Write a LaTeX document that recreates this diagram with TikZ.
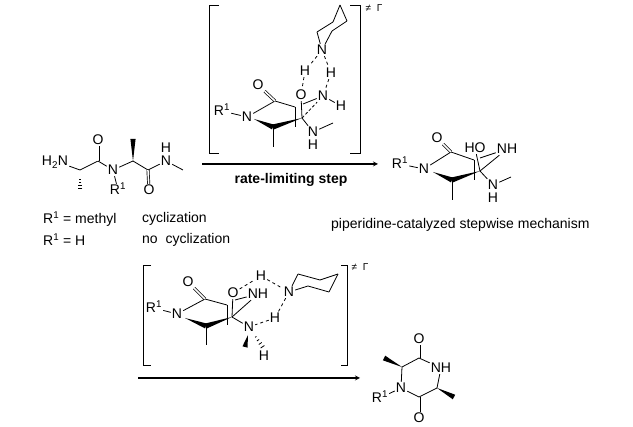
\documentclass[tikz,border=0pt]{standalone}
\usepackage{fontspec}
\setmainfont{Liberation Sans}
\usetikzlibrary{calc}
\newcommand{\Rone}{R\textsuperscript{1}}
\newcommand{\wedgebond}[3][2.6pt]{\fill (#2) -- ($(#3)!#1!90:(#2)$) -- ($(#3)!#1!-90:(#2)$) -- cycle;}
\newcommand{\hashbond}[2]{\foreach \t/\w in {0.45/0.8pt,0.6/1.3pt,0.75/1.8pt,0.9/2.3pt,1/2.8pt}
   {\draw[line width=0.8pt] ($(#1)!\t!(#2)!\w!90:(#2)$) -- ($(#1)!\t!(#2)!\w!-90:(#2)$);}}
\begin{document}
\begin{tikzpicture}[x=1pt,y=-1pt,
                    atom/.style={inner sep=1pt,text height=10pt,text depth=0pt,font=\fontsize{14}{14}\selectfont},
                    label text/.style={inner sep=0pt,anchor=west,font=\fontsize{14}{16}\selectfont},
                    small mark/.style={inner sep=1pt,font=\fontsize{10}{10}\selectfont},
                    every edge/.style={draw,line width=0.8pt},
                    dbl/.style={double,double distance=1.6pt,line width=0.7pt},
                    hbond/.style={dash pattern=on 3pt off 3pt},
                    rear/.style={dash pattern=on 3pt off 2pt},
                    rxn/.style={-stealth,line width=1.2pt}
                   ]
   \useasboundingbox (0,0) rectangle (633,427);

   % starting dipeptide
   \node[atom] (sN1) at (55,161) {H\textsubscript{2}N};
   \coordinate (sC1) at (80,170);
   \coordinate (sMe1) at (80,191);
   \coordinate (sC2) at (98,161);
   \node[atom] (sO1) at (98,140) {O};
   \node[atom] (sN2) at (113,170) {N};
   \node[atom] (sR) at (118,190) {\Rone};
   \coordinate (sC3) at (133,161);
   \coordinate (sMe2) at (133,139);
   \coordinate (sC4) at (148,170);
   \node[atom] (sO2) at (149,190) {O};
   \node[atom] (sN3) at (166,161) {N};
   \node[atom] (sH) at (166,148) {H};
   \coordinate (sMe3) at (183,170);
   \path%
     (sN1) edge (sC1)
     (sC1) edge (sC2)
     (sC2) edge[dbl] (sO1)
     (sC2) edge (sN2)
     (sN2) edge (sR)
     (sN2) edge (sC3)
     (sC3) edge (sC4)
     (sC4) edge[dbl] (sO2)
     (sC4) edge (sN3)
     (sN3) edge (sMe3);
   \hashbond{sC1}{sMe1}
   \wedgebond{sC3}{sMe2}

   \node[label text] (tA) at (43,219) {\Rone{} = methyl};
   \node[label text] (tB) at (43,240) {\Rone{} = H};
   \node[label text] (tC) at (142,219) {cyclization};
   \node[label text] (tD) at (142,240) {no\ \ cyclization};

   % upper transition state
   \draw[line width=0.8pt] (219,5) -- (209,5) -- (209,153) -- (219,153);
   \draw[line width=0.8pt] (350,5) -- (360,5) -- (360,153) -- (350,153);
   \node[small mark] (aT) at (374,8) {≠\ \ Γ};
   \node[atom] (aNp) at (322,50) {N};
   \coordinate (aP1) at (317,32);
   \coordinate (aP2) at (333,22);
   \coordinate (aP3) at (340,5);
   \coordinate (aP4) at (347,21);
   \coordinate (aP5) at (332,31);
   \node[atom] (aH1) at (305,71) {H};
   \node[atom] (aH2) at (331,73) {H};
   \node[atom] (aO2) at (301,95) {O};
   \node[atom] (aN2) at (323,96) {N};
   \node[atom] (aH3) at (341,106) {H};
   \node[atom] (aO1) at (258,85) {O};
   \node[atom] (aN1) at (247,117) {N};
   \node[atom] (aR) at (222,111) {\Rone};
   \coordinate (aC1) at (275,101);
   \coordinate (aC2) at (295,107);
   \coordinate (aC2b) at (295,127);
   \coordinate (aC3) at (302,118);
   \coordinate (aC4) at (303,104);
   \coordinate (aC5) at (273,127);
   \coordinate (aW) at (254,119);
   \coordinate (aMe1) at (273,147);
   \node[atom] (aN3) at (313,132) {N};
   \node[atom] (aH4) at (313,145) {H};
   \coordinate (aMe2) at (333,123);
   \path%
     (aNp) edge (aP1)
     (aP1) edge (aP2)
     (aP2) edge (aP3)
     (aP3) edge (aP4)
     (aP4) edge (aP5)
     (aP5) edge (aNp)
     (aNp) edge[hbond] (aH1)
     (aNp) edge[hbond] (aH2)
     (aH1) edge[hbond] (aO2)
     (aH2) edge[hbond] (aN2)
     (aN2) edge (aH3)
     (aR) edge (aN1)
     (aN1) edge (aC1)
     (aC1) edge[dbl] (aO1)
     (aC1) edge (aC2)
     (aC2) edge (aC2b)
     (aO2) edge (aC3)
     (aC4) edge (aN2)
     (aC3) edge[rear] (aN2)
     (aC3) edge (aN3)
     (aN3) edge (aMe2)
     (aC5) edge (aMe1);
   \wedgebond{aW}{aC5}
   \wedgebond{aC3}{aC5}

   \coordinate (r1) at (202,164);
   \coordinate (r2) at (378,164);
   \draw[rxn] (r1) -- (r2);
   \node[atom,font=\fontsize{14}{14}\selectfont\bfseries] (tE) at (291,179) {rate-limiting step};

   % stepwise product
   \node[atom] (pO1) at (437,138) {O};
   \node[atom] (pN1) at (424,169) {N};
   \node[atom] (pR) at (400,164) {\Rone};
   \node[atom] (pO2) at (475,148) {HO};
   \node[atom] (pN2) at (507,149) {NH};
   \node[atom] (pN3) at (493,185) {N};
   \node[atom] (pH) at (493,198) {H};
   \coordinate (pC1) at (451,152);
   \coordinate (pC2) at (474,160);
   \coordinate (pC2b) at (474,180);
   \coordinate (pC3) at (480,171);
   \coordinate (pC4) at (480,158);
   \coordinate (pC5) at (452,180);
   \coordinate (pW) at (433,172);
   \coordinate (pMe1) at (452,200);
   \coordinate (pMe2) at (511,177);
   \path%
     (pR) edge (pN1)
     (pN1) edge (pC1)
     (pC1) edge[dbl] (pO1)
     (pC1) edge (pC2)
     (pC2) edge (pC2b)
     (pO2) edge (pC3)
     (pC4) edge (pN2)
     (pC3) edge (pN2)
     (pC3) edge (pN3)
     (pN3) edge (pMe2)
     (pC5) edge (pMe1);
   \wedgebond{pW}{pC5}
   \wedgebond{pC3}{pC5}
   \node[label text] (tF) at (331,225) {piperidine-catalyzed stepwise mechanism};

   % lower transition state
   \draw[line width=0.8pt] (151,265) -- (143,265) -- (143,365) -- (151,365);
   \draw[line width=0.8pt] (341,265) -- (347,265) -- (347,365) -- (341,365);
   \node[small mark] (bT) at (360,267) {≠\ \ Γ};
   \node[atom] (bO1) at (188,282) {O};
   \node[atom] (bN1) at (177,314) {N};
   \node[atom] (bR) at (154,308) {\Rone};
   \node[atom] (bO2) at (233,293) {O};
   \node[atom] (bN2) at (258,294) {NH};
   \node[atom] (bH1) at (261,276) {H};
   \node[atom] (bNp) at (289,292) {N};
   \node[atom] (bH2) at (275,318) {H};
   \node[atom] (bN3) at (249,327) {N};
   \node[atom] (bH3) at (264,356) {H};
   \coordinate (bP1) at (298,274);
   \coordinate (bP2) at (320,280);
   \coordinate (bP3) at (338,274);
   \coordinate (bP4) at (329,292);
   \coordinate (bP5) at (308,286);
   \coordinate (bC1) at (205,299);
   \coordinate (bC2) at (227,305);
   \coordinate (bC2b) at (227,325);
   \coordinate (bC3) at (232,317);
   \coordinate (bC4) at (235,300);
   \coordinate (bC5) at (206,326);
   \coordinate (bW) at (185,318);
   \coordinate (bW2) at (248,335);
   \coordinate (bMe1) at (206,345);
   \coordinate (bMe2) at (245,347);
   \coordinate (bH3b) at (264,349);
   \path%
     (bR) edge (bN1)
     (bN1) edge (bC1)
     (bC1) edge[dbl] (bO1)
     (bC1) edge (bC2)
     (bC2) edge (bC2b)
     (bO2) edge (bC3)
     (bC4) edge (bN2)
     (bC3) edge (bN2)
     (bC3) edge (bN3)
     (bC5) edge (bMe1)
     (bO2) edge[hbond] (bH1)
     (bH1) edge[hbond] (bNp)
     (bNp) edge[hbond] (bH2)
     (bH2) edge[hbond] (bN3)
     (bNp) edge (bP1)
     (bP1) edge (bP2)
     (bP2) edge (bP3)
     (bP3) edge (bP4)
     (bP4) edge (bP5)
     (bP5) edge (bNp);
   \wedgebond{bW}{bC5}
   \wedgebond{bC3}{bC5}
   \wedgebond{bW2}{bMe2}
   \hashbond{bN3}{bH3b}

   \coordinate (r3) at (138,378);
   \coordinate (r4) at (360,378);
   \draw[rxn] (r3) -- (r4);

   % diketopiperazine
   \node[atom] (qO1) at (419,339) {O};
   \node[atom] (qO2) at (419,418) {O};
   \node[atom] (qN1) at (401,388) {N};
   \node[atom] (qN2) at (441,368) {NH};
   \node[atom] (qR) at (380,398) {\Rone};
   \coordinate (qC1) at (419,358);
   \coordinate (qC2) at (402,367);
   \coordinate (qC3) at (437,388);
   \coordinate (qC4) at (419,397);
   \coordinate (qMe1) at (384,358);
   \coordinate (qMe2) at (454,397);
   \path%
     (qC1) edge[dbl] (qO1)
     (qC4) edge[dbl] (qO2)
     (qC1) edge (qN2)
     (qN2) edge (qC3)
     (qC3) edge (qC4)
     (qC4) edge (qN1)
     (qN1) edge (qC2)
     (qC2) edge (qC1)
     (qR) edge (qN1);
   \wedgebond{qC2}{qMe1}
   \wedgebond{qC3}{qMe2}
\end{tikzpicture}
\end{document}
